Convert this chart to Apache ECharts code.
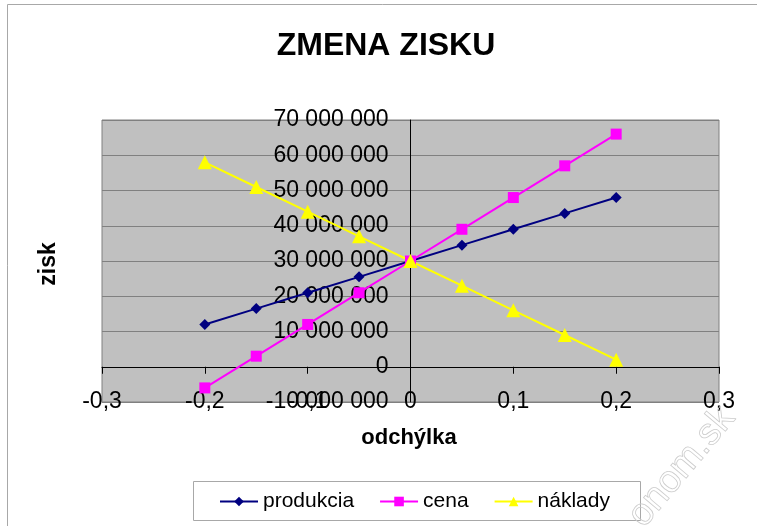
<!DOCTYPE html>
<html>
<head>
<meta charset="utf-8">
<script src="https://cdn.jsdelivr.net/npm/echarts@6/dist/echarts.min.js"></script>
<style>html,body{margin:0;padding:0;background:#fff}#c{width:757px;height:526px}</style>
</head>
<body>
<div id="c"></div>
<script>
const odchylka = [-0.2, -0.15, -0.1, -0.05, 0, 0.05, 0.1, 0.15, 0.2];
const produkcia = [12000000, 16500000, 21000000, 25500000, 30000000, 34500000, 39000000, 43500000, 48000000];
const cena = [-6000000, 3000000, 12000000, 21000000, 30000000, 39000000, 48000000, 57000000, 66000000];
const naklady = [58000000, 51000000, 44000000, 37000000, 30000000, 23000000, 16000000, 9000000, 2000000];
const seriesNames = ['produkcia', 'cena', 'náklady'];

const FONT = "'Liberation Sans', Arial, sans-serif";
const W = 757, H = 526;
const G = {left: 102, top: 120, right: 38, bottom: 124};
const gridW = W - G.left - G.right;
const pair = arr => odchylka.map((x, i) => [x, arr[i]]);
const fmtY = v => String(Math.round(v)).replace(/\B(?=(\d{3})+(?!\d))/g, ' ');
const fmtX = v => String(Math.round(v * 10) / 10).replace('.', ',');

const chart = echarts.init(document.getElementById('c'), null, {renderer: 'canvas'});
chart.setOption({
  backgroundColor: '#fff',
  animation: false,
  textStyle: {fontFamily: FONT},
  grid: {left: G.left, top: G.top, right: G.right, bottom: G.bottom, show: true,
         containLabel: false, outerBoundsMode: 'none',
         backgroundColor: '#C0C0C0', borderColor: '#808080', borderWidth: 1},
  xAxis: [
    {type: 'value', min: -0.3, max: 0.3, interval: 0.1,
     axisLine: {show: true, onZero: true, lineStyle: {color: '#000', width: 1}},
     axisTick: {show: true, length: 7, lineStyle: {color: '#000'}},
     axisLabel: {show: false}, splitLine: {show: false}},
    {type: 'value', min: -0.3, max: 0.3, interval: 0.1, position: 'bottom',
     axisLine: {show: false, onZero: false}, axisTick: {show: false}, splitLine: {show: false},
     axisLabel: {show: true, margin: 0, verticalAlign: 'middle', padding: [4, 0, 0, 0], color: '#000', fontSize: 23,
                 fontFamily: FONT, formatter: fmtX, showMinLabel: true, showMaxLabel: true}}
  ],
  yAxis: [
    {type: 'value', min: -10000000, max: 70000000, interval: 10000000,
     axisLine: {show: true, onZero: true, onZeroAxisIndex: 0, lineStyle: {color: '#000', width: 1}},
     axisTick: {show: false}, axisLabel: {show: false},
     splitLine: {show: true, lineStyle: {color: '#808080', width: 1}}},
    {type: 'value', min: -10000000, max: 70000000, interval: 10000000, position: 'left',
     offset: -gridW / 2,
     axisLine: {show: false, onZero: false}, axisTick: {show: false}, splitLine: {show: false},
     axisLabel: {margin: 22, verticalAlign: 'middle', padding: [6, 0, 0, 0], color: '#000', fontSize: 23, fontFamily: FONT, formatter: fmtY,
                 showMinLabel: true, showMaxLabel: true}}
  ],
  legend: {left: 219, top: 491, padding: 0, itemGap: 25, itemWidth: 38, itemHeight: 12,
    textStyle: {fontSize: 21, color: '#000', fontFamily: FONT},
    data: seriesNames},
  series: [
    {name: seriesNames[0], type: 'line', xAxisIndex: 0, yAxisIndex: 0, data: pair(produkcia),
     symbol: 'diamond', symbolSize: 11, color: '#000080', lineStyle: {width: 2, color: '#000080'},
     itemStyle: {color: '#000080'}},
    {name: seriesNames[1], type: 'line', xAxisIndex: 0, yAxisIndex: 0, data: pair(cena),
     symbol: 'rect', symbolSize: 11, color: '#FF00FF', lineStyle: {width: 2, color: '#FF00FF'},
     itemStyle: {color: '#FF00FF'}},
    {name: seriesNames[2], type: 'line', xAxisIndex: 0, yAxisIndex: 0, data: pair(naklady),
     symbol: 'triangle', symbolSize: 14, color: '#FFFF00', lineStyle: {width: 2, color: '#FFFF00'},
     itemStyle: {color: '#FFFF00'}}
  ],
  graphic: [
    {type: 'line', shape: {x1: 7.5, y1: 4.5, x2: 7.5, y2: H}, style: {stroke: '#a8a8a8', lineWidth: 1}, silent: true},
    {type: 'line', shape: {x1: 7.5, y1: 4.5, x2: W, y2: 4.5}, style: {stroke: '#a8a8a8', lineWidth: 1}, silent: true},
    {type: 'text', x: 386, y: 46, style: {text: 'ZMENA ZISKU', font: "bold 32px " + FONT, fill: '#000', align: 'center', verticalAlign: 'middle'}},
    {type: 'text', x: 49, y: 264, rotation: Math.PI / 2, style: {text: 'zisk', font: "bold 23px " + FONT, fill: '#000', align: 'center', verticalAlign: 'middle'}},
    {type: 'text', x: 409, y: 438, style: {text: 'odchýlka', font: "bold 22px " + FONT, fill: '#000', align: 'center', verticalAlign: 'middle'}},
    {type: 'rect', shape: {x: 193.5, y: 481.5, width: 447, height: 39}, style: {fill: 'none', stroke: '#a8a8a8', lineWidth: 1}, z: -1, silent: true},
    {type: 'text', x: 728, y: 412, rotation: 50 * Math.PI / 180, z: 100, silent: true,
     style: {text: 'onom.sk', font: "38px " + FONT, fill: 'rgba(255,255,255,0)', stroke: '#cccccc', lineWidth: 0.8, align: 'right', verticalAlign: 'middle'}}
  ]
});
</script>
</body>
</html>
